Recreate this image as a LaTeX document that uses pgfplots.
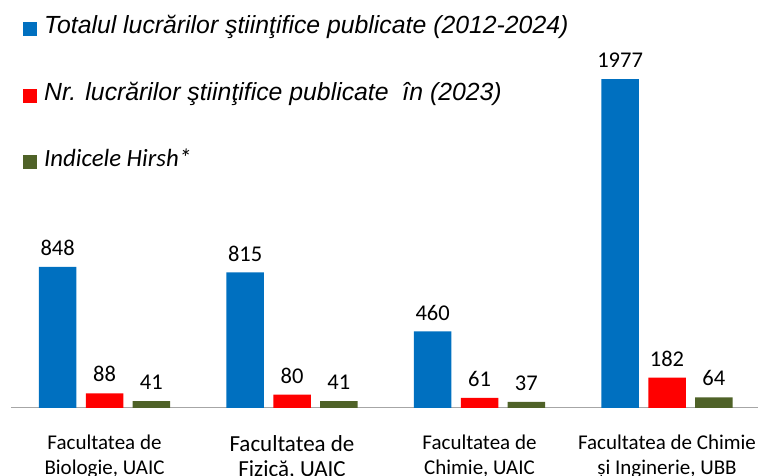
\documentclass[border=0pt]{standalone}
\usepackage{pgfplots}
\pgfplotsset{compat=1.18}
\usepackage{fontspec}
\setmainfont{Carlito}
\newfontfamily\arial{Liberation Sans}
\definecolor{cblue}{HTML}{0070C0}
\definecolor{cred}{HTML}{FF0000}
\definecolor{cgreen}{HTML}{4F6228}
\newcommand{\lb}{\fontsize{23}{26}\selectfont}
\begin{document}
\begin{tikzpicture}
\useasboundingbox (-10.75pt,-68pt) rectangle (747.25pt,408pt);
\clip (-10.75pt,-68pt) rectangle (747.25pt,408pt);
\begin{axis}[
  at={(0pt,0pt)}, anchor=south west,
  scale only axis, width=750pt, height=408pt,
  xmin=-0.5, xmax=3.5, ymin=0, ymax=2452,
  axis x line=bottom, axis y line=none,
  x axis line style={-, draw=black!35, line width=1pt},
  xtick={0,1,2,3}, major tick length=0pt,
  xticklabels={{Facultatea de\\Biologie, UAIC},{\lb Facultatea de\\\lb Fizică, UAIC},{Facultatea de\\Chimie, UAIC},{Facultatea de Chimie\\și Inginerie, UBB}},
  xticklabel style={align=center, font=\fontsize{21}{25}\selectfont, text=black, inner sep=0pt, anchor=north, yshift=-27pt},
  ybar, bar width=0.2,
  /pgf/number format/assume math mode=true,
  /pgf/number format/1000 sep={},
  nodes near coords,
  nodes near coords style={font=\fontsize{22.5}{27}\selectfont, text=black, anchor=south, inner sep=0pt, yshift=11pt},
  legend style={at={(axis description cs:0.0163,0.962)}, anchor=north west, draw=none, fill=none, inner sep=0pt,
    font=\fontsize{24.8}{28}\selectfont, row sep=42.5pt,
    nodes={inner sep=0pt, text height=18pt, text depth=6pt},
    /tikz/every odd column/.append style={column sep=7pt}},
  legend cell align=left,
  legend image code/.code={\fill[#1] (0pt,-8.5pt) rectangle (14pt,5.5pt);},
]
\addplot[fill=cblue, draw=none, bar shift=0pt] coordinates {(-0.25,848) (0.75,815) (1.75,460) (2.75,1977)};
\addlegendentry{\arial\itshape Totalul lucrărilor ştiinţifice publicate (2012-2024)}
\addplot[fill=cred, draw=none, bar shift=0pt] coordinates {(0,88) (1,80) (2,61) (3,182)};
\addlegendentry{\arial\itshape Nr. lucrărilor ştiinţifice publicate\ \ în (2023)}
\addplot[fill=cgreen, draw=none, bar shift=0pt] coordinates {(0.25,41) (1.25,41) (2.25,37) (3.25,64)};
\addlegendentry{\itshape Indicele Hirsh*}
\end{axis}
\end{tikzpicture}
\end{document}
